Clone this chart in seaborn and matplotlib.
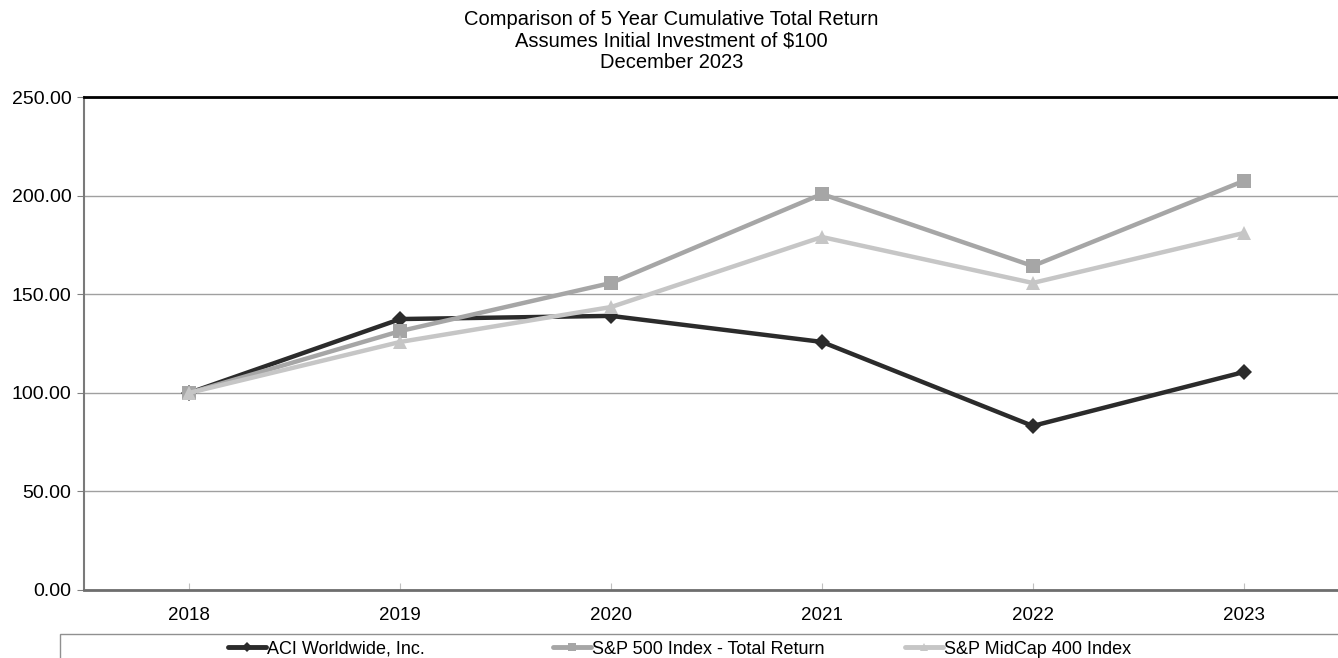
import pandas as pd
import seaborn as sns
import matplotlib.pyplot as plt
from matplotlib.patches import Rectangle
from matplotlib.lines import Line2D

years = ["2018", "2019", "2020", "2021", "2022", "2023"]
aci = [100.00, 137.4, 139.0, 125.8, 83.2, 110.5]
sp500 = [100.00, 131.3, 155.7, 200.8, 164.3, 207.4]
midcap = [100.00, 125.8, 143.5, 179.0, 155.7, 181.0]
series_names = ["ACI Worldwide, Inc.", "S&P 500 Index - Total Return", "S&P MidCap 400 Index"]

df = pd.DataFrame({
    "Year": years * 3,
    "Value": aci + sp500 + midcap,
    "Series": [series_names[0]] * 6 + [series_names[1]] * 6 + [series_names[2]] * 6,
})
df["x"] = df["Year"].map({y: i + 0.5 for i, y in enumerate(years)})

colors = {series_names[0]: "#2b2b2b", series_names[1]: "#a6a6a6", series_names[2]: "#c6c6c6"}
markers = {series_names[0]: "D", series_names[1]: "s", series_names[2]: "^"}
msizes = {series_names[0]: 8, series_names[1]: 10, series_names[2]: 10}

sns.set_style("white")
plt.rcParams["font.family"] = ["Liberation Sans", "DejaVu Sans"]
plt.rcParams["text.color"] = "black"
plt.rcParams["xtick.labelcolor"] = "black"
plt.rcParams["ytick.labelcolor"] = "black"

fig = plt.figure(figsize=(13.38, 6.58), dpi=100)
W, H = 1338, 658
ax = fig.add_axes([84 / W, 1 - 590 / H, (1349 - 84) / W, (590 - 97) / H])

for name in series_names:
    sub = df[df["Series"] == name]
    sns.lineplot(data=sub, x="x", y="Value", ax=ax, color=colors[name], lw=3.2,
                 marker=markers[name], markersize=msizes[name], markeredgewidth=0,
                 legend=False, zorder=3)

ax.set_xlim(0, 6)
ax.set_ylim(0, 250)
ax.set_xticks([i + 0.5 for i in range(6)])
ax.set_xticklabels(years)
ax.set_yticks(range(0, 251, 50))
ax.set_yticklabels([f"{v:.2f}" for v in range(0, 251, 50)])
ax.set_xlabel("")
ax.set_ylabel("")
ax.yaxis.grid(True, color="#a0a0a0", lw=1)
ax.set_axisbelow(True)
ax.tick_params(axis="y", direction="out", length=5, color="#808080", labelsize=14, pad=4, left=True)
ax.tick_params(axis="x", direction="in", length=5, color="#c0c0c0", labelsize=13.5, pad=12, bottom=True)
ax.spines["top"].set_color("black")
ax.spines["top"].set_linewidth(2)
ax.spines["left"].set_color("#7a7a7a")
ax.spines["left"].set_linewidth(1.5)
ax.spines["bottom"].set_color("#6e6e6e")
ax.spines["bottom"].set_linewidth(2)
ax.spines["right"].set_visible(False)

fig.suptitle("Comparison of 5 Year Cumulative Total Return\nAssumes Initial Investment of $100\nDecember 2023",
             x=0.502, y=1 - 10 / H, va="top", fontsize=14.5, linespacing=1.17)

fig.patches.append(Rectangle((60 / W, -0.1), 1.0, 0.1 + 1 - 634 / H, transform=fig.transFigure,
                             fill=False, edgecolor="#909090", lw=1))

legend_x = [228, 553, 905]
for name, lx in zip(series_names, legend_x):
    h = Line2D([], [], color=colors[name], lw=3.5, marker=markers[name],
               markersize=msizes[name] * 0.6, markeredgewidth=0)
    fig.legend([h], [name], loc="center left", bbox_to_anchor=(lx / W, 1 - 649 / H),
               frameon=False, fontsize=13, handlelength=2.1, handletextpad=0.05,
               borderpad=0, borderaxespad=0)

fig.savefig("out.png", dpi=100)
